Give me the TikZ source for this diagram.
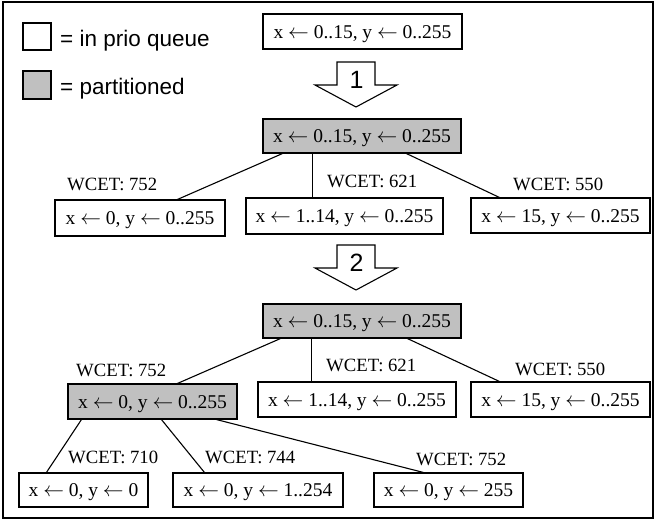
\documentclass[tikz,border=0pt]{standalone}
\usepackage{fontspec}
\setmainfont{Liberation Serif}
\newfontfamily\legendfont{Liberation Sans}
\usetikzlibrary{calc}
\definecolor{boxgray}{RGB}{192,192,192}
% assignment arrow used in the range labels
\newcommand\assignto{\ensuremath{\leftarrow}}
\begin{document}
\begin{tikzpicture}[x=1pt,y=-1pt,
  rangebox/.style={draw, line width=1.1pt, fill=white, inner sep=0pt,
    text height=13pt, text depth=0pt,
    font=\fontsize{19.5}{19.5}\selectfont},
  splitbox/.style={rangebox, fill=boxgray},
  edge/.style={line width=1.1pt},
  wcet/.style={anchor=base west, inner sep=0pt, font=\fontsize{18.7}{18.7}\selectfont},
  legendtext/.style={anchor=base west, inner sep=0pt, font=\legendfont\fontsize{22.5}{22.5}\selectfont},
  legendsq/.style={draw, line width=1.1pt, inner sep=0pt, minimum width=28pt, minimum height=27pt},
  blockarrow/.style={draw, line width=1.1pt, fill=white, line join=miter},
  stepnum/.style={inner sep=0pt, font=\legendfont\fontsize{25}{25}\selectfont}]

% canvas and outer frame
\useasboundingbox (0,0) rectangle (656,520);
\draw[line width=1.4pt] (3,2) rectangle (653,518);

% legend
\node[legendsq, fill=white] (sqopen) at (37,36.5) {};
\node[legendtext] (lgopen) at (60,46) {= in prio queue};
\node[legendsq, fill=boxgray, minimum height=28pt] (sqdone) at (37,85) {};
\node[legendtext] (lgdone) at (60,94.5) {= partitioned};

% initial range
\node[rangebox, minimum width=199pt, minimum height=35pt] (top) at (362.5,31.5) {x \assignto{} 0..15, y \assignto{} 0..255};

% step arrows
\foreach \dy/\n in {0/1,183/2}{
  \begin{scope}[shift={(0,\dy)}]
    \draw[blockarrow] (337,62) -- (375,62) -- (375,85) -- (397,85) -- (356,107)
      -- (315,85) -- (337,85) -- cycle;
    \node[stepnum] (num\n) at (356.5,80) {\n};
  \end{scope}
}

% first partitioning
\node[splitbox, minimum width=198pt, minimum height=34pt] (p1) at (362,136) {x \assignto{} 0..15, y \assignto{} 0..255};
\node[rangebox, minimum width=170pt, minimum height=36pt] (a1) at (140,218) {x \assignto{} 0, y \assignto{} 0..255};
\node[rangebox, minimum width=197pt, minimum height=36pt] (b1) at (344.5,216) {x \assignto{} 1..14, y \assignto{} 0..255};
\node[rangebox, minimum width=179pt, minimum height=35pt] (c1) at (560.5,215.5) {x \assignto{} 15, y \assignto{} 0..255};

\draw[edge] ($(p1.south west)+(20,0)$) -- ($(a1.north west)+(123,0)$);
\draw[edge] ($(p1.south west)+(50,0)$) -- ($(b1.north west)+(67,0)$);
\draw[edge] ($(p1.south west)+(144,0)$) -- ($(c1.north west)+(29,0)$);

\node[wcet] (w1a) at (67,190) {WCET: 752};
\node[wcet] (w1b) at (327,187) {WCET: 621};
\node[wcet] (w1c) at (513,190) {WCET: 550};

% second partitioning
\node[splitbox, minimum width=198pt, minimum height=34pt] (p2) at (362,321) {x \assignto{} 0..15, y \assignto{} 0..255};
\node[splitbox, minimum width=169pt, minimum height=35pt] (a2) at (152.5,401.5) {x \assignto{} 0, y \assignto{} 0..255};
\node[rangebox, minimum width=198pt, minimum height=35pt] (b2) at (357,399.5) {x \assignto{} 1..14, y \assignto{} 0..255};
\node[rangebox, minimum width=179pt, minimum height=35pt] (c2) at (560.5,399.5) {x \assignto{} 15, y \assignto{} 0..255};

\draw[edge] ($(p2.south west)+(18,0)$) -- ($(a2.north west)+(110,0)$);
\draw[edge] ($(p2.south west)+(49,0)$) -- ($(b2.north west)+(54,0)$);
\draw[edge] ($(p2.south west)+(145,0)$) -- ($(c2.north west)+(29,0)$);

\node[wcet] (w2a) at (76,376) {WCET: 752};
\node[wcet] (w2b) at (326,371) {WCET: 621};
\node[wcet] (w2c) at (515,375) {WCET: 550};

% third level
\node[rangebox, minimum width=129pt, minimum height=34pt] (a3) at (83.5,490) {x \assignto{} 0, y \assignto{} 0};
\node[rangebox, minimum width=170pt, minimum height=34pt] (b3) at (258,490) {x \assignto{} 0, y \assignto{} 1..254};
\node[rangebox, minimum width=149pt, minimum height=34pt] (c3) at (448.5,490) {x \assignto{} 0, y \assignto{} 255};

\draw[edge] ($(a2.south west)+(14,0)$) -- ($(a3.north west)+(28,0)$);
\draw[edge] ($(a2.south west)+(94,0)$) -- ($(b3.north west)+(32,0)$);
\draw[edge] ($(a2.south west)+(149,0)$) -- ($(c3.north west)+(50,0)$);

\node[wcet] (w3a) at (68,463) {WCET: 710};
\node[wcet] (w3b) at (205,463) {WCET: 744};
\node[wcet] (w3c) at (416,465) {WCET: 752};
\end{tikzpicture}
\end{document}
